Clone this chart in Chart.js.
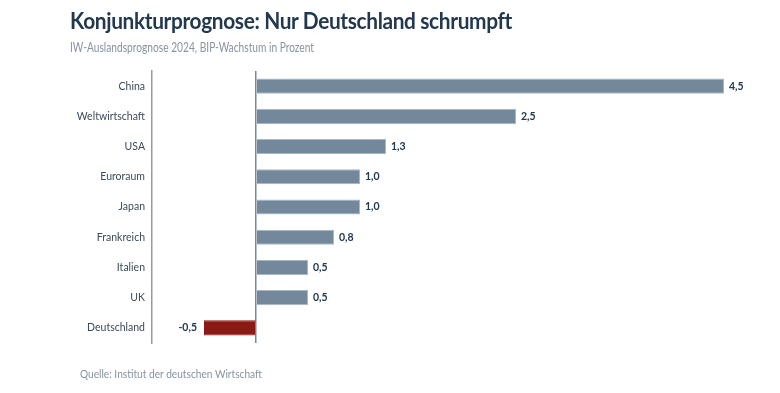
<!DOCTYPE html>
<html lang="de">
<head>
<meta charset="utf-8">
<script src="https://cdn.jsdelivr.net/npm/chart.js@4"></script>
<style>
  html, body { margin: 0; padding: 0; background: #fff; }
  #wrap { position: relative; width: 780px; height: 393px; font-family: Lato, sans-serif; }
  .txt { position: absolute; white-space: nowrap; transform-origin: 0 0; }
  #title { left: 70px; top: 6px; font-size: 23.5px; font-weight: 700; color: #22384f; letter-spacing: -0.4px; }
  #subtitle { left: 70px; top: 39px; font-size: 13px; color: #8693a0; }
  #source { left: 80px; top: 366px; font-size: 12px; color: #8693a0; }
  canvas { position: absolute; left: 0; top: 0; }
</style>
</head>
<body>
<div id="wrap">
  <canvas id="chart" width="780" height="393"></canvas>
  <div class="txt" id="title" data-w="442">Konjunkturprognose: Nur Deutschland schrumpft</div>
  <div class="txt" id="subtitle" data-w="244">IW-Auslandsprognose 2024, BIP-Wachstum in Prozent</div>
  <div class="txt" id="source" data-w="182">Quelle: Institut der deutschen Wirtschaft</div>
</div>
<script>
// daten
const countries = ['China', 'Weltwirtschaft', 'USA', 'Euroraum', 'Japan', 'Frankreich', 'Italien', 'UK', 'Deutschland'];
const growth = [4.5, 2.5, 1.25, 1.0, 1.0, 0.75, 0.5, 0.5, -0.5];

const fmtDe = v => v.toFixed(1).replace('.', ',');

// schmalere Schrift nachbilden
document.querySelectorAll('.txt').forEach(el => {
  const w = el.getBoundingClientRect().width;
  el.style.transform = 'scaleX(' + (el.dataset.w / w) + ')';
});

const valueLabels = {
  id: 'valueLabels',
  afterDatasetsDraw(chart) {
    const ctx = chart.ctx;
    const meta = chart.getDatasetMeta(0);
    ctx.save();
    ctx.font = 'bold 10.5px Lato, sans-serif';
    ctx.fillStyle = '#22384f';
    ctx.textBaseline = 'middle';
    meta.data.forEach((bar, i) => {
      const v = growth[i];
      if (v >= 0) {
        ctx.textAlign = 'left';
        ctx.fillText(fmtDe(v), bar.x + 5, bar.y);
      } else {
        ctx.textAlign = 'right';
        ctx.fillText(fmtDe(v), bar.x - 7, bar.y);
      }
    });
    ctx.restore();
  }
};

new Chart(document.getElementById('chart'), {
  type: 'bar',
  data: {
    labels: countries,
    datasets: [{
      data: growth,
      backgroundColor: growth.map(v => v < 0 ? '#8b1a15' : '#73889a'),
      borderColor: growth.map(v => v < 0 ? '#8b1a15' : '#a9b7c3'),
      borderWidth: 1,
      borderSkipped: 'start',
      barPercentage: 0.5,
      categoryPercentage: 1
    }]
  },
  options: {
    indexAxis: 'y',
    responsive: false,
    animation: false,
    layout: { padding: { left: 0, right: 56, top: 71, bottom: 50 } },
    plugins: { legend: { display: false }, tooltip: { enabled: false } },
    scales: {
      x: {
        min: -1,
        max: 4.5,
        ticks: { display: false },
        border: { display: false },
        grid: {
          drawTicks: false,
          color: c => c.tick && c.tick.value === 0 ? '#73889a' : 'rgba(0,0,0,0)',
          lineWidth: 1.5
        }
      },
      y: {
        afterFit: s => { s.width = 152; },
        border: { display: true, color: '#9a9a9a', width: 1.5 },
        grid: { display: false, drawTicks: false },
        ticks: { padding: 7, color: '#3c4a58', font: { family: 'Lato', size: 10.5 } }
      }
    }
  },
  plugins: [valueLabels]
});
</script>
</body>
</html>
